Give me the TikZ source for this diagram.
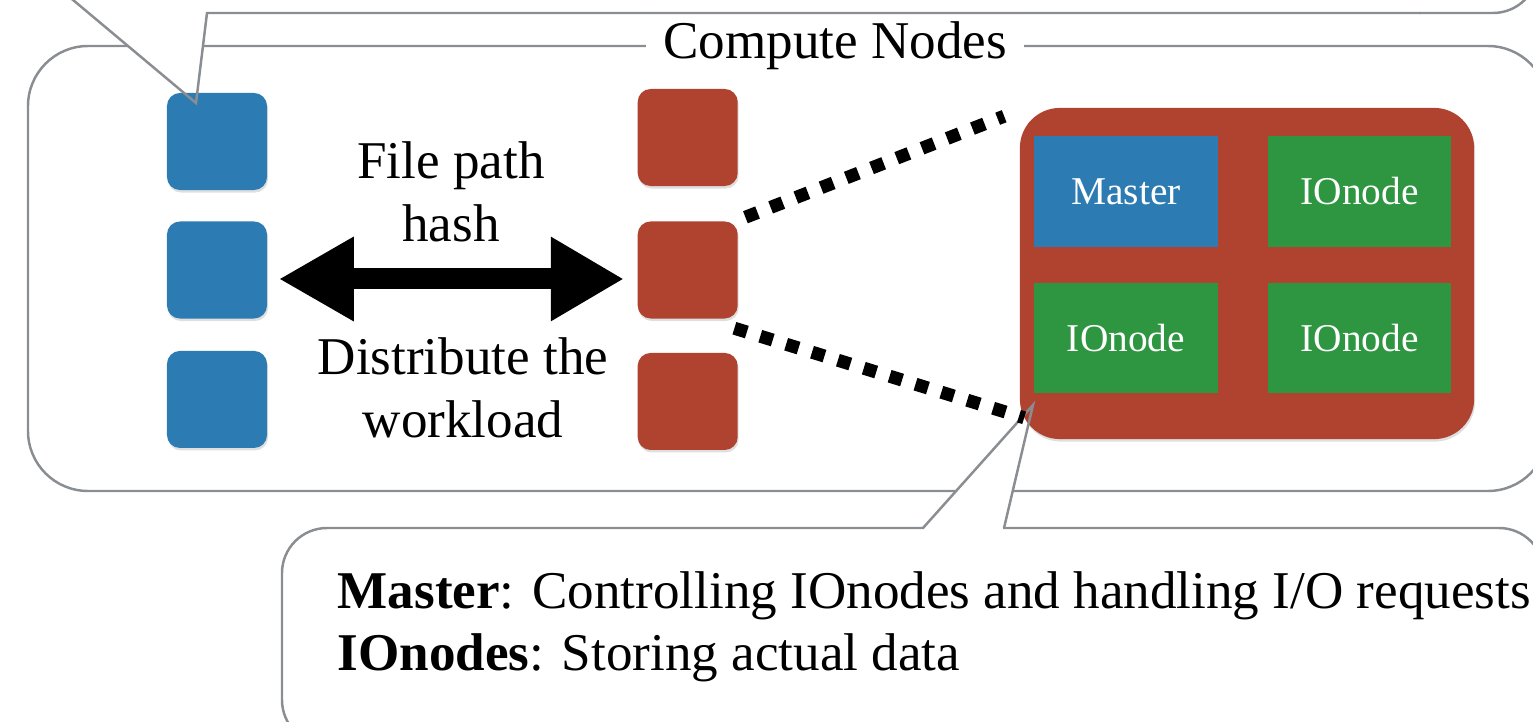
\documentclass[tikz,border=0pt]{standalone}
\usepackage{fontspec}
\setmainfont{Liberation Serif}
\usetikzlibrary{positioning}
\usetikzlibrary{arrows.meta}
\usetikzlibrary{shadows}
\definecolor{gunjo}	{rgb}	{	0.1725	,	0.4824	,	0.6980	}
\definecolor{benigara}	{rgb}	{	0.6902	,	0.2588	,	0.1882	}
\definecolor{tokiwa}	{rgb}	{	0.1804	,	0.5882	,	0.2510	}
\definecolor{nezumi}	{rgb}	{	0.5412	,	0.5529	,	0.5686	}

\begin{document}
\begin{tikzpicture}[x=0.01cm, y=-0.01cm,
  txt/.style={font=\fontsize{15.1}{18}\selectfont},
  softshadow/.style={drop shadow={opacity=0.25, shadow xshift=0.01cm, shadow yshift=-0.025cm}},
  sq/.style={rounded corners=0.13cm, minimum width=1cm, minimum height=0.97cm, inner sep=0, softshadow},
  bluesq/.style={sq, fill=gunjo},
  redsq/.style={sq, fill=benigara},
  role/.style={minimum width=1.83cm, minimum height=1.1cm, inner sep=0, text=white, font=\fontsize{11.2}{13}\selectfont},
  frame/.style={draw=nezumi, line width=0.7pt},
  dotline/.style={line width=3.7pt, dash pattern=on 3.7pt off 4pt},
  hasharrow/.style={line width=0.21cm, {Triangle[length=0.75cm,width=0.79cm]}-{Triangle[length=0.73cm,width=0.79cm]}}]
  \useasboundingbox (0,0) rectangle (1533,721);
  \clip (0,0) rectangle (1533,721);
  \coordinate (ptr) at (196,103);
  \coordinate (tip) at (1033,405);
  % compute nodes frame
  \draw[frame, rounded corners=0.6cm] (28,46) rectangle (1548,491);
  \fill[white] (48,-21) -- (ptr) -- (207,13) -- (1545,13) -- (1545,-30) -- cycle;
  \fill[white] (923,528) -- (tip) -- (1004,528) -- cycle;
  \node (title) [txt, fill=white, inner xsep=0.17cm] at (835,46) {Compute Nodes};
  % clients and servers
  \node (b1) [bluesq] at (217,141.5) {};
  \node (b2) [bluesq, below=0.3cm of b1] {};
  \node (b3) [bluesq, below=0.31cm of b2] {};
  \node (r2) [redsq, right=3.69cm of b2] {};
  \node (r1) [redsq, above=0.34cm of r2] {};
  \node (r3) [redsq, below=0.33cm of r2] {};
  \node (hashtxt) [txt, align=center] at (451,192) {File path\\hash};
  \node (worktxt) [txt, align=center] at (463,388) {Distribute the\\workload};
  \draw[hasharrow] ([xshift=0.11cm,yshift=-0.09cm]b2.east) -- ([xshift=-0.13cm,yshift=-0.09cm]r2.west);
  % one server, zoomed in
  \node (cluster) [fill=benigara, rounded corners=0.4cm, minimum width=4.54cm, minimum height=3.31cm, softshadow] at (1247,273.5) {};
  \node (master) [role, fill=gunjo] at (1126,191.5) {Master};
  \node (ion1) [role, fill=tokiwa, right=0.49cm of master] {IOnode};
  \node (ion2) [role, fill=tokiwa, below=0.35cm of master] {IOnode};
  \node (ion3) [role, fill=tokiwa, right=0.49cm of ion2] {IOnode};
  % callouts
  \draw[frame] (48,-21) -- (ptr) -- (207,13) -- (1420,13);
  \draw[frame, rounded corners=0.45cm] (1419,13) -- (1538,13) -- (1538,-40);
  \draw[frame] (923,528) -- (tip) -- (1004,528);
  \draw[frame, rounded corners=0.45cm] (1003,528) -- (1544,528) -- (1544,745) -- (282,745) -- (282,528) -- (924,528);
  \node (legend) [txt, font=\fontsize{15.1}{17.6}\selectfont, align=left, anchor=north west, inner sep=0] at (337,571)
    {\textbf{Master}: Controlling IOnodes and handling I/O requests\\\textbf{IOnodes}: Storing actual data};
  \draw[dotline] ([xshift=0.07cm,yshift=0.035cm]r2.north east) -- ([xshift=-0.15cm,yshift=-0.09cm]cluster.north west);
  \draw[dotline] ([xshift=-0.04cm,yshift=-0.09cm]r2.south east) -- ([xshift=0.05cm,yshift=0.22cm]cluster.south west);
\end{tikzpicture}
\end{document}
